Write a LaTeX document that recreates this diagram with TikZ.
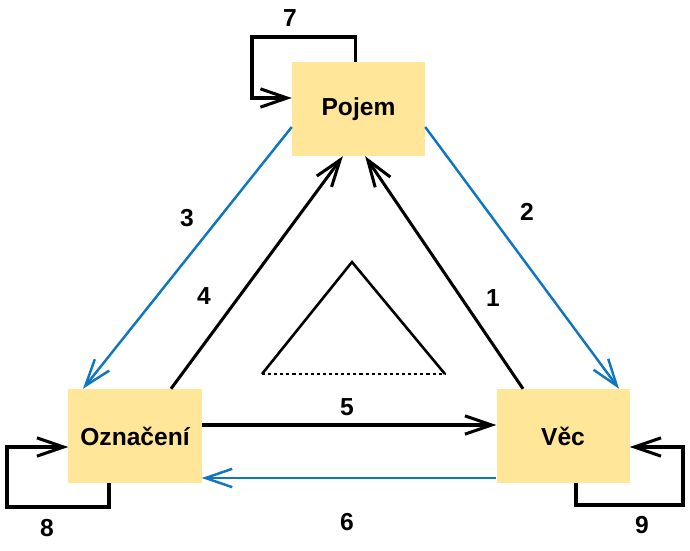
\documentclass[tikz,border=0pt]{standalone}
\usepackage{fontspec}
\setmainfont{Liberation Sans}
\usepackage{xcolor}
\usetikzlibrary{arrows.meta}

\definecolor{boxfill}{RGB}{255,230,153}
\definecolor{linkblue}{RGB}{16,118,192}

\begin{document}
\begin{tikzpicture}[
    x=0.03cm, y=-0.03cm,
    concept/.style={rectangle, fill=boxfill, minimum width=3.99cm, minimum height=2.82cm, align=center, font=\fontsize{21}{24}\selectfont\bfseries},
    num/.style={font=\fontsize{21}{24}\selectfont\bfseries},
    arrow/.style={-{Straight Barb[length=8mm, width=5.5mm]}, line width=2.6pt},
    bluearrow/.style={arrow, line width=2.1pt, draw=linkblue}
]
    \useasboundingbox (0,0) rectangle (690,550);

    \node[concept] (pojem) at (358.5,109) {Pojem};
    \node[concept] (oznaceni) at (135,436) {Označení};
    \node[concept] (vec) at (563,436) {Věc};

    % sides of the triangle
    \draw[bluearrow] ([yshift=-0.54cm]pojem.west) -- ([xshift=-1.56cm]oznaceni.north);
    \draw[bluearrow] ([yshift=-0.54cm]pojem.east) -- ([xshift=1.68cm]vec.north);
    \draw[arrow] ([xshift=1.08cm]oznaceni.north) -- ([xshift=-0.47cm]pojem.south);
    \draw[arrow] ([xshift=-1.2cm]vec.north) -- ([xshift=0.2cm]pojem.south);
    \draw[arrow] ([yshift=0.33cm]oznaceni.east) -- ([yshift=0.33cm]vec.west);
    \draw[bluearrow] ([yshift=-1.26cm]vec.west) -- ([yshift=-1.26cm]oznaceni.east);

    % loops
    \draw[arrow] ([xshift=-0.1cm]pojem.north) |- (252,37) |- ([yshift=0.33cm]pojem.west);
    \draw[arrow] ([xshift=-0.78cm]oznaceni.south) |- (7,507) |- ([yshift=-0.33cm]oznaceni.west);
    \draw[arrow] ([xshift=0.39cm]vec.south) |- (683,505) |- ([yshift=-0.33cm]vec.east);

    % labels
    \node[num] (n1) at (493,298) {1};
    \node[num] (n2) at (527,212) {2};
    \node[num] (n3) at (187,218) {3};
    \node[num] (n4) at (204,296) {4};
    \node[num] (n5) at (347,407) {5};
    \node[num] (n6) at (347,522) {6};
    \node[num] (n7) at (290,18) {7};
    \node[num] (n8) at (47,528) {8};
    \node[num] (n9) at (642,525) {9};

    % inner triangle
    \draw[line width=2.2pt] (262,374) -- (352,262) -- (445,374);
    \draw[line width=2.2pt, dash pattern=on 2.6pt off 2.6pt] (262,374) -- (445,374);
\end{tikzpicture}
\end{document}
